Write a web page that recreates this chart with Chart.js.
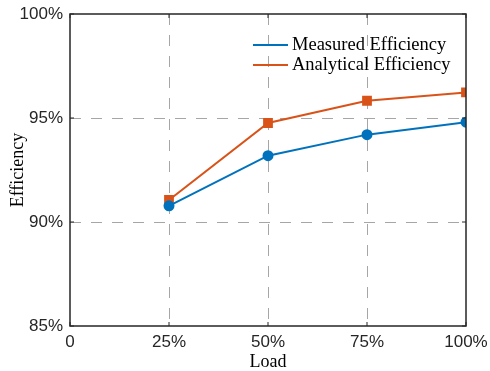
<!DOCTYPE html>
<html>
<head>
<meta charset="utf-8">
<script src="https://cdn.jsdelivr.net/npm/chart.js@4"></script>
<style>
  html, body { margin: 0; padding: 0; background: #fff; }
  #wrap { width: 490px; height: 371px; }
</style>
</head>
<body>
<div id="wrap"><canvas id="chart" width="490" height="371"></canvas></div>
<script>
// Load points (%) and efficiency readings (%)
const loads = [25, 50, 75, 100];
const measured = [90.78, 93.19, 94.2, 94.8];
const analytical = [91.06, 94.76, 95.83, 96.23];
const xTicks = [0, 25, 50, 75, 100];
const yTicks = [85, 90, 95, 100];

const BLUE = '#0072BD';
const ORANGE = '#D95319';
const AXIS = '#262626';
const GRID = '#a6a6a6';

const toPoints = vals => loads.map((x, i) => ({ x, y: vals[i] }));

// grid line only on inner ticks (edges are the box)
function innerGrid(min, max) {
  return ctx => {
    const v = ctx.tick && ctx.tick.value;
    return (v > min && v < max) ? GRID : 'rgba(0,0,0,0)';
  };
}

// box around the plot + inward tick marks, like the original figure
const boxPlugin = {
  id: 'box',
  afterDatasetsDraw(chart) {
    const { ctx, chartArea: a, scales } = chart;
    ctx.save();
    ctx.setLineDash([]);
    ctx.strokeStyle = AXIS;
    ctx.lineWidth = 1.5;
    ctx.strokeRect(a.left, a.top, a.right - a.left, a.bottom - a.top);
    ctx.lineWidth = 1;
    const len = 4;
    ctx.beginPath();
    xTicks.forEach(v => {
      const px = scales.x.getPixelForValue(v);
      ctx.moveTo(px, a.bottom); ctx.lineTo(px, a.bottom - len);
      ctx.moveTo(px, a.top); ctx.lineTo(px, a.top + len);
    });
    yTicks.forEach(v => {
      const py = scales.y.getPixelForValue(v);
      ctx.moveTo(a.left, py); ctx.lineTo(a.left + len, py);
      ctx.moveTo(a.right, py); ctx.lineTo(a.right - len, py);
    });
    ctx.stroke();
    ctx.restore();
  },
  afterDraw(chart) {
    // legend inside the plot, top right, no frame
    const { ctx } = chart;
    const rows = [45, 65];
    ctx.save();
    ctx.font = '18.5px "Liberation Serif", "Times New Roman", serif';
    ctx.textBaseline = 'middle';
    ctx.textAlign = 'left';
    chart.data.datasets.forEach((ds, i) => {
      const y = rows[i];
      ctx.strokeStyle = ds.borderColor;
      ctx.lineWidth = 2;
      ctx.beginPath();
      ctx.moveTo(253, y); ctx.lineTo(288, y);
      ctx.stroke();
      ctx.fillStyle = '#000';
      ctx.fillText(ds.label, 292, y);
    });
    ctx.restore();
  }
};

new Chart(document.getElementById('chart'), {
  type: 'line',
  data: {
    datasets: [
      {
        label: 'Measured Efficiency',
        data: toPoints(measured),
        borderColor: BLUE,
        backgroundColor: BLUE,
        borderWidth: 2,
        pointStyle: 'circle',
        pointRadius: 4.5,
        tension: 0
      },
      {
        label: 'Analytical Efficiency',
        data: toPoints(analytical),
        borderColor: ORANGE,
        backgroundColor: ORANGE,
        borderWidth: 2,
        pointStyle: 'rect',
        pointRadius: 5.5,
        tension: 0
      }
    ]
  },
  options: {
    responsive: false,
    animation: false,
    layout: { padding: { top: 14, right: 24, bottom: 0, left: 0 } },
    plugins: { legend: { display: false }, tooltip: { enabled: false } },
    scales: {
      x: {
        type: 'linear',
        min: 0,
        max: 100,
        afterBuildTicks: s => { s.ticks = xTicks.map(v => ({ value: v })); },
        afterFit: s => {
          s.height = 45;
          s.paddingLeft = 0; s.paddingRight = 0;
        },
        grid: { color: innerGrid(0, 100), lineWidth: 1, drawTicks: false },
        border: { display: false, dash: [11, 10] },
        ticks: {
          padding: 6,
          color: AXIS,
          font: { family: '"Liberation Sans", Arial, sans-serif', size: 17 },
          maxRotation: 0,
          callback: v => v === 0 ? '0' : v + '%'
        },
        title: {
          display: true,
          text: 'Load',
          color: '#000',
          font: { family: '"Liberation Serif", "Times New Roman", serif', size: 18 },
          padding: { top: 0, bottom: -2 }
        }
      },
      y: {
        min: 85,
        max: 100,
        afterBuildTicks: s => { s.ticks = yTicks.map(v => ({ value: v })); },
        afterFit: s => {
          s.width = 70;
          s.paddingTop = 0; s.paddingBottom = 0;
        },
        grid: { color: innerGrid(85, 100), lineWidth: 1, drawTicks: false },
        border: { display: false, dash: [11, 10] },
        ticks: {
          padding: 7,
          color: AXIS,
          font: { family: '"Liberation Sans", Arial, sans-serif', size: 17 },
          callback: v => v + '%'
        },
        title: {
          display: true,
          text: 'Efficiency',
          color: '#000',
          font: { family: '"Liberation Serif", "Times New Roman", serif', size: 18 },
          padding: { top: 7, bottom: 0 }
        }
      }
    }
  },
  plugins: [boxPlugin]
});
</script>
</body>
</html>
